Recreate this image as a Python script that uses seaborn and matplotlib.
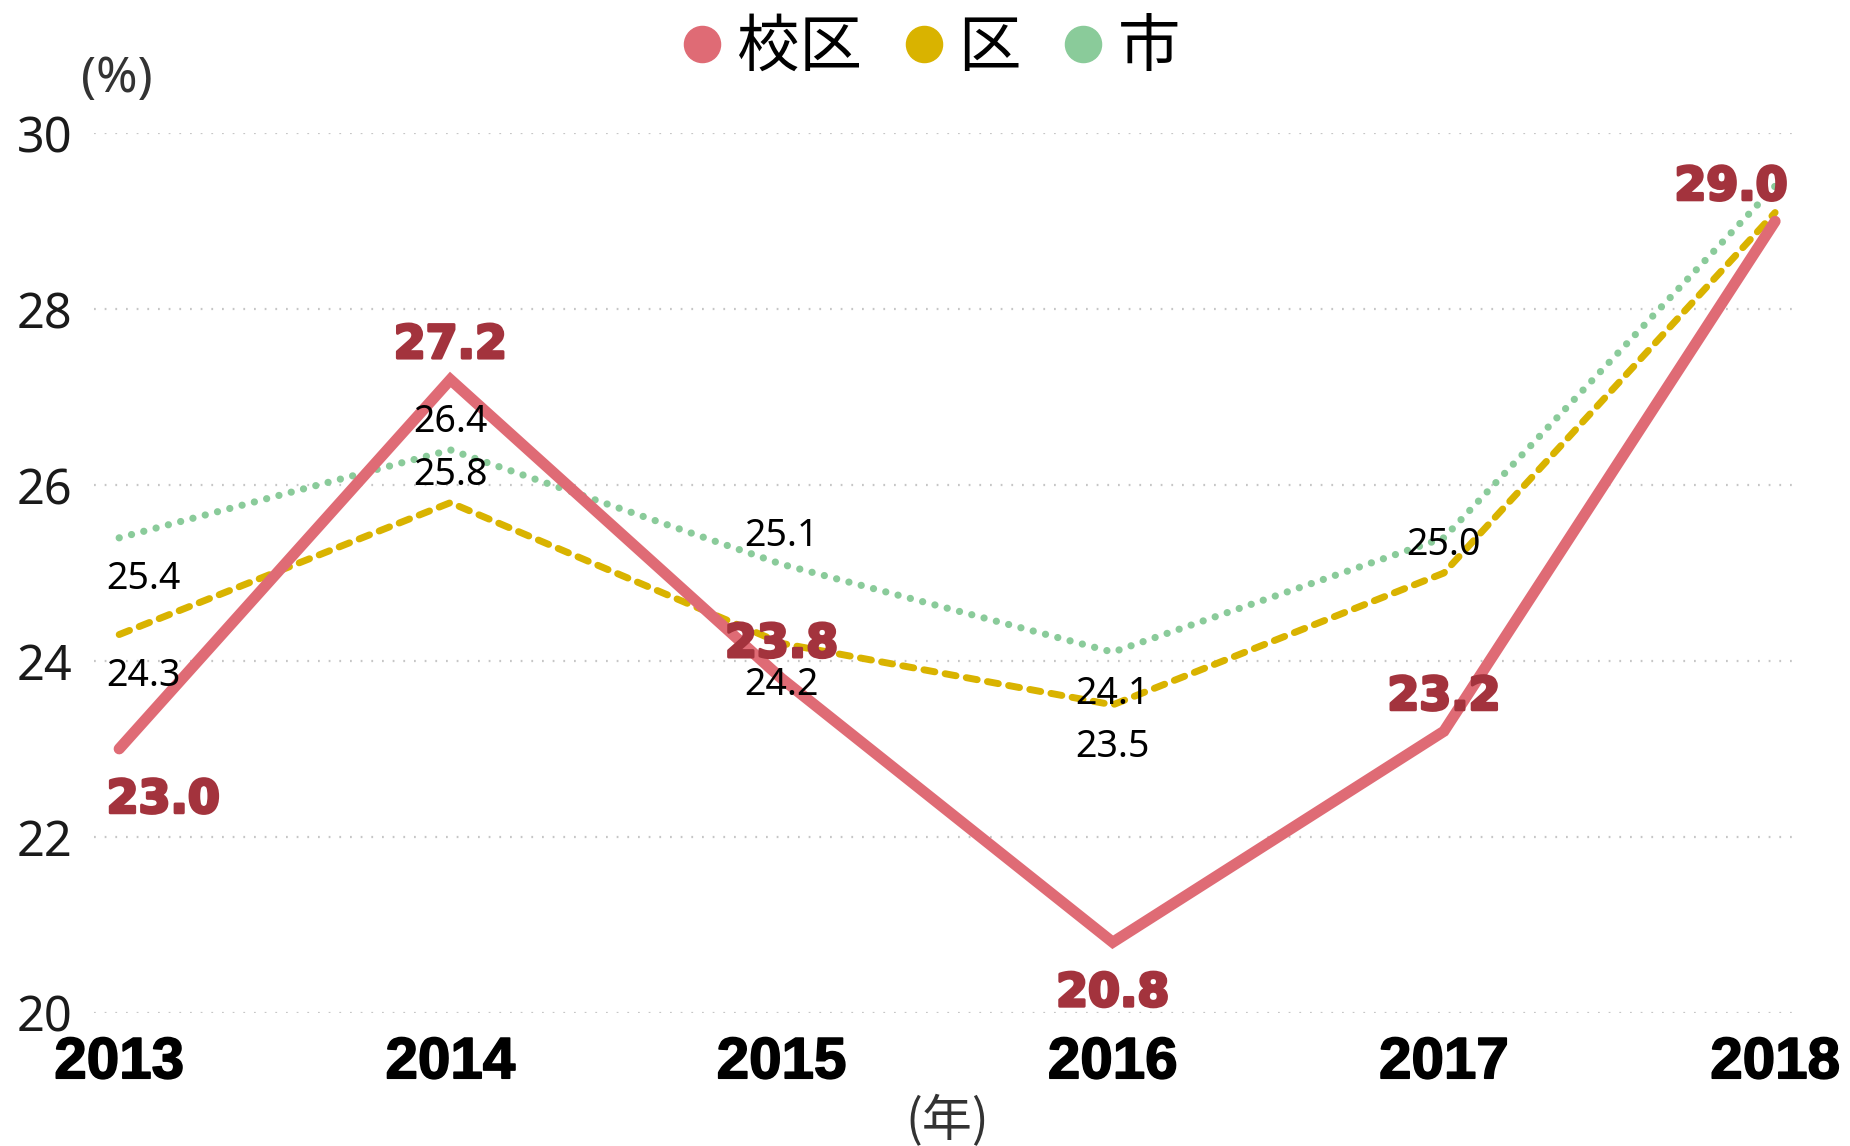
import matplotlib
matplotlib.use("Agg")
import matplotlib.pyplot as plt
import matplotlib.patheffects as pe
import seaborn as sns
import pandas as pd
from matplotlib.lines import Line2D

# ---- data ----
years = [2013, 2014, 2015, 2016, 2017, 2018]
series_names = ["校区", "区", "市"]
school_vals = [23.0, 27.2, 23.8, 20.8, 23.2, 29.0]
ward_vals = [24.3, 25.8, 24.2, 23.5, 25.0, 29.1]
city_vals = [25.4, 26.4, 25.1, 24.1, 25.4, 29.4]
y_ticks = [20, 22, 24, 26, 28, 30]
y_unit = "(%)"
x_unit = "(年)"

# label placement: 'a' above, 'b' below, None hidden
school_pos = ["b", "a", "a", "b", "a", "a"]
ward_pos = ["b", "a", "b", "b", "a", None]
city_pos = ["b", "a", "a", "b", None, None]

colors = ["#DF6B75", "#D9B300", "#8ACB9A"]

sns.set_theme(style="white")
plt.rcParams["font.family"] = ["Noto Sans", "Noto Sans CJK JP", "DejaVu Sans"]
plt.rcParams["text.color"] = "black"

fig = plt.figure(figsize=(18.5, 11.46), dpi=100)
ax = fig.add_axes([0.051, 0.1164, 0.918, 0.7672])

df = pd.DataFrame({"year": years * 3,
                   "value": school_vals + ward_vals + city_vals,
                   "series": [series_names[0]] * 6 + [series_names[1]] * 6 + [series_names[2]] * 6})

# grid
for yv in y_ticks:
    ax.axhline(yv, color="#c6c6c6", lw=1.6, linestyle=(0, (0.8, 4)), zorder=0)

# city (dotted)
sns.lineplot(data=df[df.series == "市"], x="year", y="value", color=colors[2],
             lw=5.2, ax=ax, legend=False, zorder=2)
l = ax.lines[-1]
l.set_dashes((0.01, 1.75))
l.set_dash_capstyle("round")
# ward (dashed)
sns.lineplot(data=df[df.series == "区"], x="year", y="value", color=colors[1],
             lw=5.0, ax=ax, legend=False, zorder=3)
l = ax.lines[-1]
l.set_dashes((1.6, 1.5))
l.set_dash_capstyle("round")
# school (solid)
sns.lineplot(data=df[df.series == "校区"], x="year", y="value", color=colors[0],
             lw=8.0, ax=ax, legend=False, zorder=4)
ax.lines[-1].set_solid_capstyle("round")
ax.lines[-1].set_solid_joinstyle("miter")

ax.set_xlim(2012.925, 2018.053)
ax.set_ylim(20, 30)
ax.set_yticks(y_ticks)
ax.set_xticks(years)
ax.set_xticklabels([str(y) for y in years], fontsize=42, fontweight="bold",
                   family=["Liberation Sans", "DejaVu Sans"], color="black")
for t in ax.get_xticklabels():
    t.set_path_effects([pe.withStroke(linewidth=1.2, foreground="black")])
ax.set_yticklabels([str(y) for y in y_ticks], fontsize=35, color="#1a1a1a")
ax.tick_params(axis="x", length=0, pad=17)
ax.tick_params(axis="y", length=0, pad=16)
ax.set_xlabel("")
ax.set_ylabel("")
for s in ax.spines.values():
    s.set_visible(False)
ax.patch.set_alpha(0)


def put_labels(vals, pos, big):
    n = len(vals)
    for i, (x, v, p) in enumerate(zip(years, vals, pos)):
        if p is None:
            continue
        if big:
            dy = 24.5 if p == "a" else -37
        else:
            dy = 20 if p == "a" else -30
        if i == 0:
            ha, dx = "left", -9
        elif i == n - 1:
            ha, dx = "right", 9
        else:
            ha, dx = "center", 0
        if big:
            t = ax.annotate(f"{v:.1f}", (x, v), xytext=(dx, dy), textcoords="offset points",
                            ha=ha, va="center", fontsize=33, fontweight="bold",
                            family=["DejaVu Sans"], color="#A3333D", zorder=6,
                            annotation_clip=False)
            t.set_path_effects([pe.withStroke(linewidth=2.2, foreground="#A3333D")])
        else:
            ax.annotate(f"{v:.1f}", (x, v), xytext=(dx, dy), textcoords="offset points",
                        ha=ha, va="center", fontsize=27, color="black", zorder=5,
                        annotation_clip=False)


put_labels(city_vals, city_pos, False)
put_labels(ward_vals, ward_pos, False)
put_labels(school_vals, school_pos, True)

fig.text(0.044, 0.931, y_unit, fontsize=36, color="#333333", ha="left", va="center")
fig.text(0.512, 0.021, x_unit, fontsize=36, color="#333333", ha="center", va="center",
         family=["Noto Sans CJK JP", "DejaVu Sans"])

handles = [Line2D([], [], marker="o", linestyle="", markersize=26,
                  markerfacecolor=c, markeredgecolor=c) for c in colors]
leg = fig.legend(handles, series_names, loc="center", bbox_to_anchor=(0.502, 0.958), ncol=3,
                 frameon=False, handlelength=0.8, handletextpad=0.15, columnspacing=0.6,
                 prop={"family": ["Noto Sans CJK JP", "DejaVu Sans"], "size": 45})
for t in leg.get_texts():
    t.set_color("black")

fig.savefig("out.png", dpi=100)
